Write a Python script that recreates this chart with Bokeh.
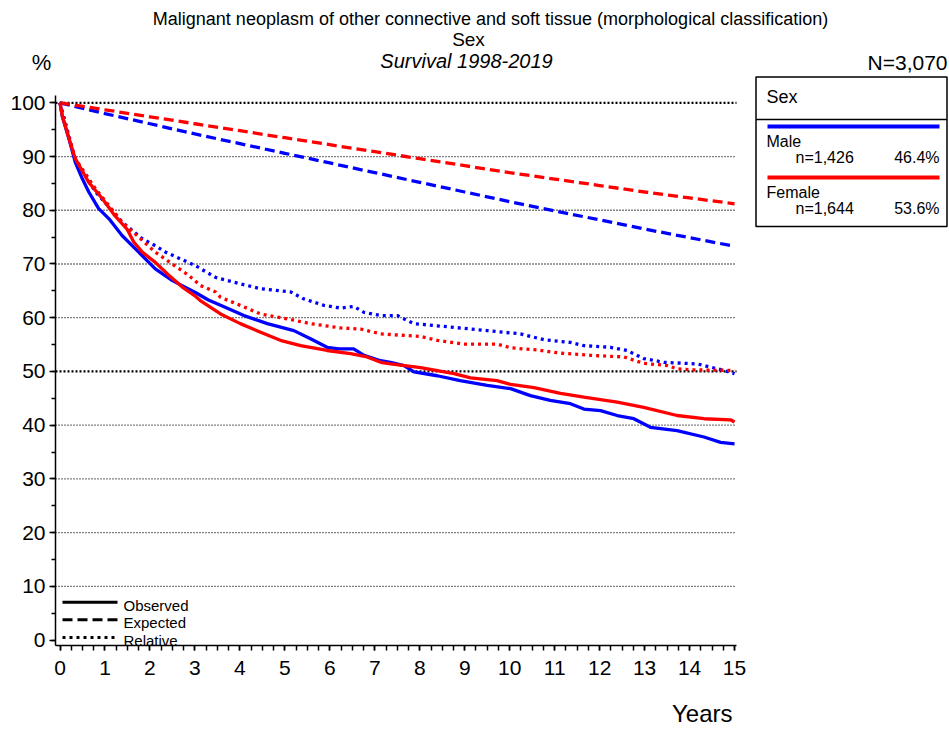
from bokeh.plotting import figure
from bokeh.models import Range1d, SingleIntervalTicker, Label
from bokeh.embed import file_html
from bokeh.resources import INLINE

# ---------------- data ----------------
title_text = "Malignant neoplasm of other connective and soft tissue (morphological classification)"
subtitle_text = "Sex"
period_text = "Survival 1998-2019"
total_text = "N=3,070"
y_unit = "%"
x_title = "Years"
legend_title = "Sex"
groups = ["Male", "Female"]
group_n = ["n=1,426", "n=1,644"]
group_pct = ["46.4%", "53.6%"]
curve_kinds = ["Observed", "Expected", "Relative"]

male_obs_t = [0, 0.05, 0.2, 0.34, 0.5, 0.64, 0.86, 1.09, 1.38, 1.75, 2.12, 2.5, 3.01, 3.3, 3.57,
              4.09, 4.61, 5.2, 5.57, 5.94, 6.2, 6.53, 6.76, 7.13, 7.35, 7.65, 7.87, 8.39, 8.9,
              9.5, 10.02, 10.46, 10.9, 11.35, 11.65, 12.02, 12.39, 12.76, 13.13, 13.72, 14.32,
              14.69, 15.0]
male_obs = [100, 97.5, 93.3, 88.9, 85.8, 83.4, 80.3, 78.4, 75.3, 72.2, 69.1, 66.9, 64.7, 63.3, 62.3,
            60.4, 58.9, 57.6, 56.1, 54.5, 54.2, 54.2, 53.0, 52.0, 51.7, 51.1, 49.9, 49.2, 48.3,
            47.4, 46.8, 45.5, 44.6, 44.0, 43.0, 42.7, 41.8, 41.2, 39.6, 39.0, 37.8,
            36.8, 36.5]

female_obs_t = [0, 0.05, 0.2, 0.34, 0.64, 0.94, 1.2, 1.49, 1.64, 1.83, 2.12, 2.42, 2.72, 3.01,
                3.12, 3.57, 4.01, 4.46, 4.9, 5.35, 5.94, 6.46, 6.83, 7.13, 7.35, 8.02, 8.76, 9.13,
                9.72, 10.02, 10.54, 11.13, 11.65, 12.39, 12.98, 13.72, 14.32, 14.91, 15.0]
female_obs = [100, 97.6, 93.3, 89.6, 85.2, 82.2, 79.2, 76.5, 74.1, 72.2, 70.3, 67.9, 65.7, 64.0,
              63.2, 60.7, 58.9, 57.3, 55.8, 54.8, 53.9, 53.3, 52.7, 51.7, 51.4, 50.7, 49.6, 48.8,
              48.3, 47.6, 47.0, 45.9, 45.2, 44.3, 43.3, 41.8, 41.2, 41.0, 40.6]

male_rel_t = [0, 0.2, 0.34, 0.79, 1.38, 1.83, 2.12, 2.35, 3.01, 3.46, 4.01, 4.46, 5.13, 5.42, 5.87,
              6.24, 6.53, 6.76, 7.13, 7.5, 7.87, 8.76, 9.5, 10.24, 10.76, 11.35, 11.65, 12.24,
              12.61, 12.98, 13.43, 14.17, 14.47, 14.76, 15.0]
male_rel = [100, 93.6, 89.5, 83.4, 77.8, 74.7, 73.4, 72.2, 69.7, 67.5, 66.3, 65.4, 64.8, 63.5, 62.3,
            61.8, 62.1, 61.0, 60.4, 60.4, 58.9, 58.2, 57.6, 57.0, 55.9, 55.4, 54.8, 54.5,
            53.9, 52.4, 51.7, 51.4, 50.8, 50.2, 49.6]

female_rel_t = [0, 0.2, 0.34, 0.79, 1.38, 2.12, 2.86, 3.12, 3.46, 3.57, 4.01, 4.46, 5.05, 5.57,
                6.24, 6.68, 7.13, 8.02, 8.39, 8.98, 9.72, 10.02, 10.61, 11.13, 11.8, 12.54,
                12.98, 13.5, 13.72, 14.02, 15.0]
female_rel = [100, 93.8, 89.6, 84.0, 77.8, 72.2, 67.9, 66.0, 64.8, 63.8, 62.3, 60.7, 59.8, 58.9,
              58.1, 57.9, 57.0, 56.5, 55.8, 55.1, 55.1, 54.4, 54.0, 53.4, 53.0, 52.7,
              51.5, 51.1, 50.5, 50.3, 50.2]

exp_t = [0, 1, 2, 3, 4, 5, 6, 7, 8, 9, 10, 11, 12, 13, 14, 15]
male_exp = [100, 98.0, 96.1, 94.2, 92.4, 90.6, 88.8, 87.0, 85.2, 83.4, 81.6, 79.9, 78.2, 76.5, 74.9, 73.3]
female_exp = [100, 98.7, 97.4, 96.1, 94.8, 93.5, 92.2, 90.9, 89.6, 88.3, 87.0, 85.8, 84.6, 83.4, 82.3, 81.2]

grid_levels = [10, 20, 30, 40, 60, 70, 80, 90]
ref_levels = [50, 100]

# ---------------- layout ----------------
W, H = 948, 728
XPX0, XSC = 59.5, 44.97      # page x of year 0, pixels per year
YPX0, YSC = 639.6, 5.373     # page y of 0 %, pixels per percent
FONT = "Liberation Sans"
BLUE, RED = "#0000ff", "#ff0000"


def px(page_x):
    return (page_x - XPX0) / XSC


def py(page_y):
    return (YPX0 - page_y) / YSC


p = figure(width=W, height=H, output_backend="svg", toolbar_location=None,
           x_range=Range1d(px(0), px(W)), y_range=Range1d(py(H), py(0)),
           min_border=0)
p.outline_line_color = None
p.xgrid.visible = False
p.ygrid.visible = False
p.background_fill_color = "white"
p.border_fill_color = "white"

AX_L, AX_R, AX_T, AX_B = 55, 736, 95, 645   # plot frame edges (page px)

for ax, ticker in ((p.xaxis[0], SingleIntervalTicker(interval=1, num_minor_ticks=4)),
                   (p.yaxis[0], SingleIntervalTicker(interval=10, num_minor_ticks=2))):
    ax.ticker = ticker
    ax.axis_line_width = 1.5
    ax.axis_line_color = "black"
    ax.major_tick_line_color = "black"
    ax.minor_tick_line_color = "black"
    ax.major_tick_line_width = 1.5
    ax.minor_tick_line_width = 1.5
    ax.major_tick_in = 0
    ax.minor_tick_in = 0
    ax.major_label_text_font = FONT
    ax.major_label_text_font_size = "21px"
    ax.major_label_text_color = "black"

p.xaxis.fixed_location = py(AX_B)
p.yaxis.fixed_location = px(AX_L)
p.xaxis.bounds = (px(AX_L), px(AX_R))
p.yaxis.bounds = (py(AX_B), py(AX_T))
p.xaxis.major_tick_out = 5
p.xaxis.minor_tick_out = 5
p.xaxis.major_label_standoff = 10
p.yaxis.major_tick_out = 6
p.yaxis.minor_tick_out = 4
p.yaxis.major_label_standoff = 4

# grid lines
gx0, gx1 = px(AX_L), px(AX_R)
p.segment(x0=[gx0] * len(grid_levels), x1=[gx1] * len(grid_levels), y0=grid_levels,
          y1=grid_levels, line_color="black", line_width=1.3, line_dash="1 2")
p.segment(x0=[gx0] * len(ref_levels), x1=[gx1] * len(ref_levels), y0=ref_levels,
          y1=ref_levels, line_color="black", line_width=2.2, line_dash="2 2")

# curves
LW = 3.3
p.line(exp_t, male_exp, line_color=BLUE, line_width=LW, line_dash="10 5", line_cap="butt")
p.line(exp_t, female_exp, line_color=RED, line_width=LW, line_dash="10 5", line_cap="butt")
p.line(male_rel_t, male_rel, line_color=BLUE, line_width=LW, line_dash="3 4", line_cap="butt")
p.line(female_rel_t, female_rel, line_color=RED, line_width=LW, line_dash="3 4", line_cap="butt")
p.line(male_obs_t, male_obs, line_color=BLUE, line_width=LW)
p.line(female_obs_t, female_obs, line_color=RED, line_width=LW)


def lab(text, x, y, size, align="center", style="normal"):
    p.add_layout(Label(x=px(x), y=py(y), text=text, text_font=FONT, text_font_size=size,
                       text_align=align, text_baseline="middle", text_color="black",
                       text_font_style=style))


# line-style key (bottom left)
styles = [None, "10 5", "3 4"]
key_y = [601.7, 619.3, 637.0]
for kind, dash, ky in zip(curve_kinds, styles, key_y):
    kw = dict(line_color="black", line_width=3, line_cap="butt")
    if dash:
        kw["line_dash"] = dash
    p.line([px(62), px(117)], [py(ky), py(ky)], **kw)
    lab(kind, 123, ky + 3, "15px", align="left")

# titles
lab(title_text, 490, 18, "18px")
lab(subtitle_text, 468, 39, "19px")
lab(period_text, 466, 60, "20px", style="italic")
lab(y_unit, 41, 62, "22px")
lab(total_text, 947, 62, "21px", align="right")
lab(x_title, 732, 713, "24px", align="right")

# legend box (top right)
p.quad(left=[px(755.5)], right=[px(946.5)], top=[py(76.5)], bottom=[py(226)],
       fill_color="white", line_color="black", line_width=1.5)
p.segment(x0=[px(755.5)], x1=[px(946.5)], y0=[py(119)], y1=[py(119)],
          line_color="black", line_width=1.5)
lab(legend_title, 766, 96, "18px", align="left")
colors = [BLUE, RED]
row_y = [126, 177]
for name, n, pct, col, ry in zip(groups, group_n, group_pct, colors, row_y):
    p.segment(x0=[px(767)], x1=[px(939)], y0=[py(ry)], y1=[py(ry)],
              line_color=col, line_width=4)
    lab(name, 766, ry + 15, "16px", align="left")
    lab(n, 795, ry + 31, "16px", align="left")
    lab(pct, 939, ry + 31, "16px", align="right")

open("out.html", "w").write(file_html(p, INLINE))
